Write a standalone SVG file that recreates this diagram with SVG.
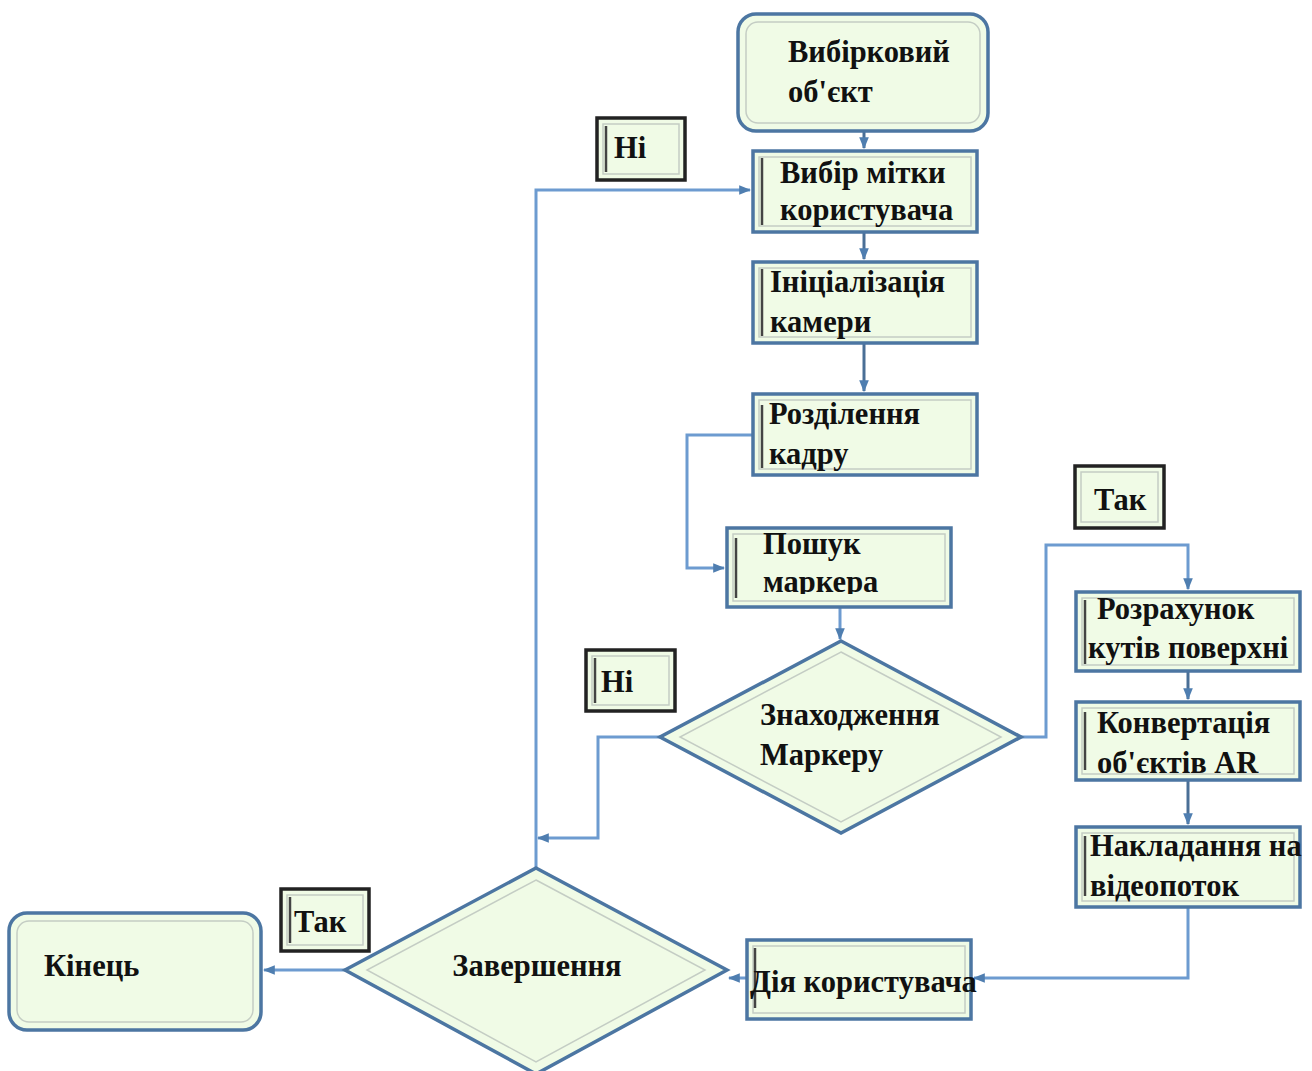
<svg xmlns="http://www.w3.org/2000/svg" width="1312" height="1071" viewBox="0 0 1312 1071">
<defs>
<style>
.box{fill:#f0fbe6;stroke:#4c76a2;stroke-width:3.5}
.inner{fill:none;stroke:#c4cdc4;stroke-width:1.5}
.bar{stroke:#444;stroke-width:2.5}
.lbl{fill:#f0fbe6;stroke:#222;stroke-width:3.5}
.t{font-family:"Liberation Serif","Times New Roman",serif;font-weight:bold;font-size:30.5px;fill:#111}
.c{fill:none;stroke:#6d9bd0;stroke-width:3}
.cd{fill:none;stroke:#4a6f96;stroke-width:3}
</style>
<marker id="ah" viewBox="0 0 10 10" refX="9" refY="5" markerWidth="4" markerHeight="4" orient="auto-start-reverse" markerUnits="strokeWidth">
<path d="M0,1 L10,5 L0,9 z" fill="#4f7eb0"/>
</marker>
</defs>
<rect width="1312" height="1071" fill="#ffffff"/>

<g id="connectors">
<path class="cd" d="M864,131 V148" marker-end="url(#ah)"/>
<path class="c" d="M536,868 V190 H750" marker-end="url(#ah)"/>
<path class="cd" d="M864,232 V259" marker-end="url(#ah)"/>
<path class="cd" d="M864,343 V391" marker-end="url(#ah)"/>
<path class="c" d="M752,435 H687 V568 H724" marker-end="url(#ah)"/>
<path class="c" d="M840,607 V639" marker-end="url(#ah)"/>
<path class="c" d="M1021,737 H1046 V545 H1188 V589" marker-end="url(#ah)"/>
<path class="cd" d="M1188,671 V699" marker-end="url(#ah)"/>
<path class="cd" d="M1188,780 V824" marker-end="url(#ah)"/>
<path class="c" d="M1188,907 V978 H974" marker-end="url(#ah)"/>
<path class="c" d="M746,978 H729" marker-end="url(#ah)"/>
<path class="c" d="M660,737 H598 V838 H538" marker-end="url(#ah)"/>
<path class="c" d="M345,970 H264" marker-end="url(#ah)"/>
</g>

<g id="n-vybirkovyi">
<rect class="box" x="738" y="14" width="250" height="117" rx="18"/>
<rect class="inner" x="746" y="22" width="234" height="101" rx="12"/>
<text class="t" x="788" y="62">Вибірковий</text>
<text class="t" x="788" y="102">об'єкт</text>
</g>

<g id="n-vybir">
<rect class="box" x="753" y="151" width="224" height="81"/>
<rect class="inner" x="759" y="157" width="212" height="69"/>
<line class="bar" x1="762" y1="158" x2="762" y2="225"/>
<text class="t" x="780" y="183">Вибір мітки</text>
<text class="t" x="780" y="220">користувача</text>
</g>

<g id="n-init">
<rect class="box" x="753" y="262" width="224" height="81"/>
<rect class="inner" x="759" y="268" width="212" height="69"/>
<line class="bar" x1="762" y1="269" x2="762" y2="336"/>
<text class="t" x="770" y="292">Ініціалізація</text>
<text class="t" x="770" y="332">камери</text>
</g>

<g id="n-rozdil">
<rect class="box" x="753" y="394" width="224" height="81"/>
<rect class="inner" x="759" y="400" width="212" height="69"/>
<line class="bar" x1="762" y1="405" x2="762" y2="468"/>
<text class="t" x="769" y="424">Розділення</text>
<text class="t" x="769" y="464">кадру</text>
</g>

<g id="n-poshuk">
<rect class="box" x="727" y="528" width="224" height="79"/>
<rect class="inner" x="733" y="534" width="212" height="67"/>
<line class="bar" x1="736" y1="538" x2="736" y2="598"/>
<svg x="727" y="528" width="224" height="66" overflow="hidden"><text class="t" x="36" y="26">Пошук</text><text class="t" x="36" y="64">маркера</text></svg>
</g>

<g id="n-znakh">
<polygon class="box" points="841,641 1021,737 841,833 660,737"/>
<polygon class="inner" points="841,652 1001,737 841,822 680,737"/>
<text class="t" x="760" y="725">Знаходження</text>
<text class="t" x="760" y="765">Маркеру</text>
</g>

<g id="n-rozrakh">
<rect class="box" x="1076" y="592" width="224" height="79"/>
<rect class="inner" x="1082" y="598" width="212" height="67"/>
<line class="bar" x1="1085" y1="600" x2="1085" y2="664"/>
<text class="t" x="1097" y="619">Розрахунок</text>
<text class="t" x="1088" y="658">кутів поверхні</text>
</g>

<g id="n-konv">
<rect class="box" x="1076" y="702" width="224" height="78"/>
<rect class="inner" x="1082" y="708" width="212" height="66"/>
<line class="bar" x1="1085" y1="712" x2="1085" y2="770"/>
<text class="t" x="1097" y="733">Конвертація</text>
<text class="t" x="1097" y="773">об'єктів AR</text>
</g>

<g id="n-nakl">
<rect class="box" x="1076" y="827" width="224" height="80"/>
<rect class="inner" x="1082" y="833" width="212" height="68"/>
<line class="bar" x1="1085" y1="836" x2="1085" y2="896"/>
<text class="t" x="1090" y="856">Накладання на</text>
<text class="t" x="1090" y="896">відеопоток</text>
</g>

<g id="n-diia">
<rect class="box" x="747" y="940" width="224" height="79"/>
<rect class="inner" x="753" y="946" width="212" height="67"/>
<line class="bar" x1="755" y1="948" x2="755" y2="1008"/>
<text class="t" x="750" y="992">Дія користувача</text>
</g>

<g id="n-zaversh">
<polygon class="box" points="536,868 727,970 536,1074 345,970"/>
<polygon class="inner" points="536,880 705,970 536,1062 367,970"/>
<text class="t" x="537" y="976" text-anchor="middle">Завершення</text>
</g>

<g id="n-kinets">
<rect class="box" x="9" y="913" width="252" height="117" rx="18"/>
<rect class="inner" x="17" y="921" width="236" height="101" rx="12"/>
<text class="t" x="44" y="976">Кінець</text>
</g>

<g id="l-ni1">
<rect class="lbl" x="597" y="118" width="88" height="62"/>
<rect class="inner" x="603" y="124" width="76" height="50"/>
<line class="bar" x1="606" y1="126" x2="606" y2="172" stroke-width="1.5"/>
<text class="t" x="614" y="158">Ні</text>
</g>

<g id="l-tak1">
<rect class="lbl" x="1075" y="466" width="89" height="62"/>
<rect class="inner" x="1081" y="472" width="77" height="50"/>
<text class="t" x="1094" y="510">Так</text>
</g>

<g id="l-ni2">
<rect class="lbl" x="586" y="650" width="89" height="61"/>
<rect class="inner" x="592" y="656" width="77" height="49"/>
<line class="bar" x1="595" y1="658" x2="595" y2="703" stroke-width="1.5"/>
<text class="t" x="601" y="692">Ні</text>
</g>

<g id="l-tak2">
<rect class="lbl" x="281" y="889" width="88" height="62"/>
<rect class="inner" x="287" y="895" width="76" height="50"/>
<line class="bar" x1="290" y1="897" x2="290" y2="943" stroke-width="1.5"/>
<text class="t" x="294" y="932">Так</text>
</g>
</svg>
